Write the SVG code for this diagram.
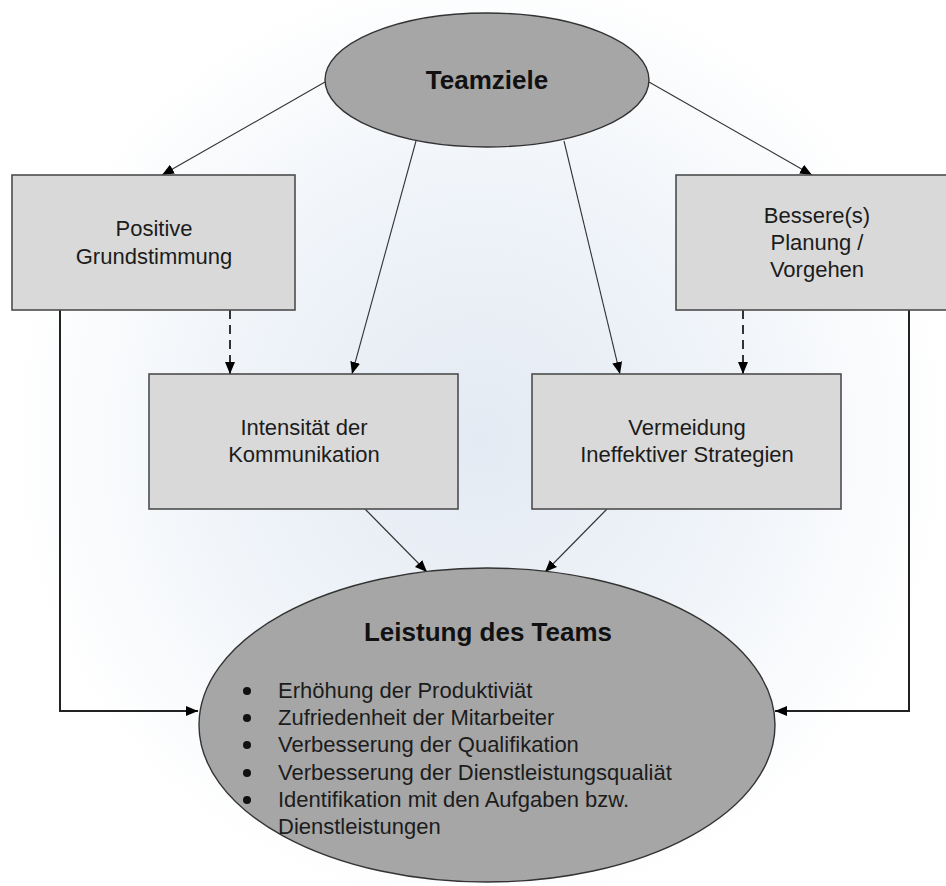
<svg xmlns="http://www.w3.org/2000/svg" width="946" height="886" viewBox="0 0 946 886">
  <defs>
    <radialGradient id="glow" cx="0.5" cy="0.5" r="0.5">
      <stop offset="0" stop-color="#e3eaf3"/>
      <stop offset="0.55" stop-color="#f0f4f9"/>
      <stop offset="1" stop-color="#ffffff"/>
    </radialGradient>
    <marker id="arr" markerUnits="userSpaceOnUse" markerWidth="13" markerHeight="11" refX="12" refY="5.5" orient="auto">
      <path d="M0,0.5 L12,5.5 L0,10.5 z" fill="#000"/>
    </marker>
    <style>
      .box { fill: #d9d9d9; stroke: #4d4d4d; stroke-width: 1.6; }
      .ell { fill: #a6a6a6; stroke: #333333; stroke-width: 1.4; }
      .t { font-family: "Liberation Sans", Arial, sans-serif; font-size: 22px; fill: #1c1c1c; text-anchor: middle; }
      .b { font-family: "Liberation Sans", Arial, sans-serif; font-size: 26px; font-weight: bold; fill: #111; text-anchor: middle; }
      .li { font-family: "Liberation Sans", Arial, sans-serif; font-size: 22px; fill: #1c1c1c; }
      .thin { stroke: #333; stroke-width: 1.1; fill: none; }
      .thick { stroke: #222; stroke-width: 2; fill: none; }
      .dash { stroke: #333; stroke-width: 2; fill: none; stroke-dasharray: 9 6; }
    </style>
  </defs>
  <rect x="0" y="0" width="946" height="886" fill="#ffffff"/>
  <ellipse cx="480" cy="440" rx="470" ry="470" fill="url(#glow)"/>

  <g id="connectors">
    <line class="thin" x1="325" y1="82" x2="162" y2="175" marker-end="url(#arr)"/>
    <line class="thin" x1="649" y1="82" x2="812" y2="175" marker-end="url(#arr)"/>
    <line class="thin" x1="416" y1="141" x2="352" y2="374" marker-end="url(#arr)"/>
    <line class="thin" x1="564" y1="141" x2="620" y2="374" marker-end="url(#arr)"/>
    <line class="dash" x1="230" y1="310" x2="230" y2="374" marker-end="url(#arr)"/>
    <line class="dash" x1="743" y1="310" x2="743" y2="374" marker-end="url(#arr)"/>
    <line class="thin" x1="365" y1="509" x2="427" y2="572" marker-end="url(#arr)"/>
    <line class="thin" x1="607" y1="509" x2="545" y2="572" marker-end="url(#arr)"/>
    <polyline class="thick" points="60,310 60,711 198,711" marker-end="url(#arr)"/>
    <polyline class="thick" points="909,310 909,711 775,711" marker-end="url(#arr)"/>
  </g>

  <g id="teamziele">
    <ellipse class="ell" cx="487" cy="80" rx="162" ry="67"/>
    <text class="b" x="487" y="89">Teamziele</text>
  </g>

  <g id="positive">
    <rect class="box" x="12" y="175" width="283" height="135"/>
    <text class="t" x="154" y="236">Positive</text>
    <text class="t" x="154" y="264">Grundstimmung</text>
  </g>

  <g id="bessere">
    <rect class="box" x="676" y="175" width="283" height="135"/>
    <text class="t" x="817" y="223">Bessere(s)</text>
    <text class="t" x="817" y="250">Planung /</text>
    <text class="t" x="817" y="277">Vorgehen</text>
  </g>

  <g id="intensitaet">
    <rect class="box" x="149" y="374" width="309" height="135"/>
    <text class="t" x="304" y="435">Intensität der</text>
    <text class="t" x="304" y="462">Kommunikation</text>
  </g>

  <g id="vermeidung">
    <rect class="box" x="532" y="374" width="309" height="135"/>
    <text class="t" x="687" y="435">Vermeidung</text>
    <text class="t" x="687" y="462">Ineffektiver Strategien</text>
  </g>

  <g id="leistung">
    <ellipse class="ell" cx="487" cy="725" rx="288" ry="157"/>
    <text class="b" x="488" y="641">Leistung des Teams</text>
    <g fill="#111">
      <circle cx="247" cy="691" r="4"/>
      <circle cx="247" cy="718" r="4"/>
      <circle cx="247" cy="745" r="4"/>
      <circle cx="247" cy="773" r="4"/>
      <circle cx="247" cy="800" r="4"/>
    </g>
    <text class="li" x="278" y="698">Erhöhung der Produktiviät</text>
    <text class="li" x="278" y="725">Zufriedenheit der Mitarbeiter</text>
    <text class="li" x="278" y="752">Verbesserung der Qualifikation</text>
    <text class="li" x="278" y="780">Verbesserung der Dienstleistungsqualiät</text>
    <text class="li" x="278" y="807">Identifikation mit den Aufgaben bzw.</text>
    <text class="li" x="278" y="834">Dienstleistungen</text>
  </g>
</svg>
